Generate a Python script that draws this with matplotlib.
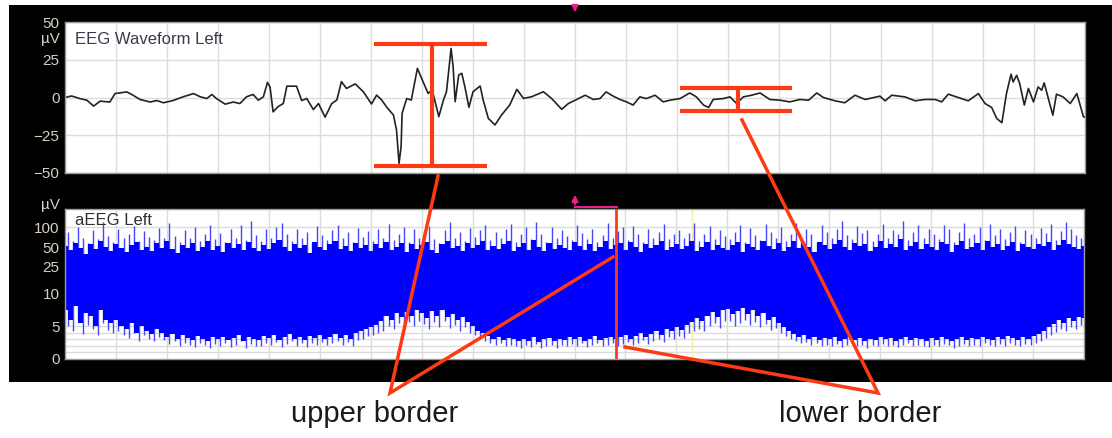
import matplotlib
matplotlib.use("Agg")
import matplotlib.pyplot as plt
import numpy as np

plt.rcParams["font.family"] = ["Liberation Sans", "DejaVu Sans"]

# ---- EEG waveform (seconds, microvolts) ----
eeg_t = [0.00, 0.13, 0.29, 0.43, 0.56, 0.69, 0.88, 0.98, 1.21, 1.31, 1.47, 1.67, 1.80, 1.93,
         2.12, 2.32, 2.52, 2.65, 2.78, 2.88, 2.97, 3.14, 3.30, 3.43, 3.56, 3.69, 3.79, 3.89,
         3.97, 4.02, 4.08, 4.18, 4.28, 4.35, 4.54, 4.64, 4.74, 4.87, 4.97, 5.10, 5.23, 5.33,
         5.42, 5.52, 5.69, 5.85, 6.01, 6.11, 6.21, 6.31, 6.44, 6.50, 6.55, 6.59, 6.61, 6.70,
         6.79, 6.91, 7.02, 7.12, 7.20, 7.33, 7.42, 7.48, 7.57, 7.61, 7.65, 7.72, 7.78, 7.84,
         7.92, 8.00, 8.14, 8.20, 8.30, 8.43, 8.56, 8.72, 8.86, 8.99, 9.15, 9.38, 9.54, 9.74,
         9.87, 10.03, 10.20, 10.36, 10.49, 10.61, 10.75, 10.88, 11.01, 11.14, 11.27, 11.40,
         11.57, 11.73, 11.86, 12.06, 12.25, 12.38, 12.52, 12.62, 12.71, 12.91, 13.04, 13.17,
         13.30, 13.46, 13.63, 13.82, 14.02, 14.21, 14.41, 14.58, 14.74, 14.87, 15.10, 15.29,
         15.49, 15.69, 15.98, 16.08, 16.21, 16.47, 16.67, 16.86, 17.06, 17.19, 17.32, 17.48,
         17.71, 17.91, 18.04, 18.17, 18.27, 18.37, 18.46, 18.55, 18.59, 18.66, 18.72, 18.81,
         18.89, 18.99, 19.08, 19.15, 19.20, 19.29, 19.37, 19.44, 19.57, 19.71, 19.84, 19.97,
         20.00]
eeg_uv = [0.0, 1.0, -0.7, -1.8, -5.7, -2.4, -3.0, 2.6, 3.7, 2.0, -1.3, -3.0, -2.0, -3.5,
          -2.0, 0.5, 2.6, 0.5, -0.7, 2.0, -0.7, -4.4, -3.0, -4.0, 0.5, 2.0, -1.8, 0.5,
          10.0, 7.0, -9.5, -6.0, -4.0, 7.5, 7.5, -2.0, -0.7, -8.0, -4.0, -13.0, -4.0, -1.7,
          10.5, 6.0, 9.0, 3.8, -4.3, 1.6, -1.7, -6.5, -11.6, -21.5, -43.6, -32.6, -10.5, -0.7,
          -1.7, 19.3, 10.5, 2.7, 5.0, -12.7, -1.7, 3.8, 32.5, 20.4, -2.8, 14.9, 16.0, 7.2,
          -6.5, 3.8, 7.6, -1.7, -13.8, -18.2, -11.6, -5.0, 5.4, -0.6, 0.5, 3.8, -0.6, -7.8,
          -4.0, -1.3, 1.5, -1.3, -0.7, 3.7, 0.9, -1.3, -2.9, -5.0, 0.4, -0.7,
          1.5, -2.9, -1.8, -0.7, 3.0, 0.4, -5.0, -6.6, -1.3, -0.7, 0.4, -4.0,
          0.4, 1.5, 3.0, -1.3, -1.8, -2.9, -1.3, -1.8, 3.0, 0.0, -2.2, -3.5,
          1.5, -1.3, 0.9, -2.2, 1.5, 0.4, -2.2, -1.3, -1.3, -2.9, 2.2, 0.4,
          -2.2, 2.6, -4.0, -6.6, -13.9, -16.7, 2.6, 15.4, 10.3, 14.7, 9.2, -5.0,
          6.0, -2.9, 7.0, 4.8, 9.7, -1.8, -11.7, 2.2, 0.4, -4.0, 2.6, -12.8,
          -13.0]

# ---- aEEG: solid band every 0.1 s, thin spikes in between ----
band_t = np.arange(0, 20.001, 0.1)
band_upper = [52, 45, 58, 48, 40, 55, 47, 62, 50, 44,
              56, 48, 42, 53, 60, 46, 51, 43, 57, 49,
              62, 47, 41, 54, 49, 58, 44, 50, 63, 46,
              52, 42, 57, 48, 55, 45, 60, 49, 43, 54,
              47, 58, 65, 50, 44, 56, 48, 53, 41, 59,
              50, 45, 55, 61, 47, 52, 43, 57, 49, 53,
              44, 56, 48, 60, 45, 51, 58, 42, 55, 47,
              53, 60, 46, 41, 55, 63, 48, 52, 44, 57,
              49, 54, 61, 45, 52, 47, 56, 62, 43, 50,
              57, 46, 64, 51, 43, 58, 47, 54, 49, 45,
              60, 52, 46, 55, 43, 50, 62, 47, 53, 58,
              45, 59, 51, 42, 56, 48, 53, 61, 46, 50,
              55, 47, 52, 63, 44, 51, 59, 46, 54, 49,
              46, 53, 60, 42, 56, 50, 45, 61, 52, 47,
              57, 43, 50, 62, 48, 55, 51, 42, 60, 53,
              47, 56, 64, 50, 46, 58, 52, 55, 44, 51,
              62, 48, 55, 50, 66, 45, 52, 60, 47, 56,
              51, 46, 60, 55, 42, 53, 63, 47, 51, 57,
              45, 61, 50, 56, 46, 52, 59, 43, 55, 50,
              47, 56, 52, 60, 45, 53, 64, 55, 50, 47,
              52]
band_lower = [7.5, 6, 8, 5.5, 7, 6.5, 5, 7.5, 6, 5.5,
              6, 5, 4.5, 5.5, 4, 5, 4.2, 3.8, 4.6, 4,
              3.4, 3.8, 3, 3.6, 3.2, 2.9, 3.5, 3.1, 2.8, 3.3,
              3, 3.4, 2.9, 3.2, 3.7, 2.8, 3.3, 3, 2.9, 3.5,
              3.2, 3.6, 2.9, 3.3, 3.8, 3, 3.4, 2.9, 3.5, 3.2,
              3.6, 3.1, 3.4, 3.8, 3.2, 3.6, 3.1, 3.9, 4.2, 4.6,
              4.8, 5.2, 5.8, 6.5, 6, 7, 6.4, 7.2, 6.6, 7.4,
              7, 6.2, 7.3, 6.6, 7.5, 6.4, 6.9, 5.9, 6.4, 5.6,
              5, 4.3, 3.9, 3.5, 3.1, 3.4, 2.9, 3.2, 3, 2.7,
              3.1, 2.8, 3.3, 2.6, 3, 3.2, 2.7, 3.1, 2.9, 3.3,
              3, 3.4, 2.8, 3.1, 3.5, 2.9, 3.2, 3.4, 3, 3.3,
              3.6, 3.1, 3.5, 4, 3.4, 3.8, 4.3, 3.7, 4.5, 4.2,
              4.8, 4.4, 5.2, 5.6, 6.2, 5.8, 6.6, 7.2, 6.4, 7.4,
              7.6, 6.8, 7.3, 7.8, 6.9, 7.4, 6.5, 7, 6, 6.4,
              5.4, 4.8, 4.2, 3.8, 3.4, 3.6, 3.1, 3.4, 2.9, 3.2,
              3, 3.3, 2.8, 3.1, 3.4, 2.9, 3.2, 2.7, 3.1, 2.9,
              3.3, 3, 3.2, 2.8, 3.1, 3.4, 2.9, 3.2, 3, 2.8,
              3.2, 2.9, 3.3, 3.1, 2.7, 3, 3.3, 2.9, 3.2, 3,
              3.4, 3.1, 2.9, 3.3, 3, 3.5, 3.2, 2.9, 3.3, 3.1,
              3.5, 3.8, 4.3, 4.8, 5.3, 5.9, 5.5, 6.2, 5.8, 6.4,
              6.2]

spike_t = np.arange(0.05, 20.0, 0.1)
spike_upper = [85, 62, 100, 70, 58, 92, 66, 120, 75, 60,
               95, 68, 80, 105, 62, 88, 72, 64, 98, 70,
               115, 74, 60, 90, 68, 102, 63, 78, 110, 66,
               82, 60, 96, 70, 108, 64, 125, 76, 62, 94,
               70, 100, 118, 78, 62, 95, 68, 86, 60, 104,
               76, 64, 92, 108, 70, 84, 60, 98, 72, 88,
               62, 96, 70, 112, 64, 80, 100, 60, 94, 68,
               84, 104, 66, 58, 92, 122, 70, 86, 62, 98,
               72, 90, 110, 64, 86, 68, 96, 114, 60, 78,
               100, 66, 120, 80, 60, 102, 68, 90, 74, 64,
               108, 82, 66, 94, 60, 76, 116, 68, 88, 100,
               64, 104, 78, 60, 96, 70, 86, 112, 66, 80,
               92, 68, 82, 118, 62, 78, 106, 66, 90, 74,
               66, 86, 110, 60, 98, 76, 64, 114, 84, 68,
               100, 62, 80, 116, 70, 94, 78, 60, 108, 86,
               68, 96, 124, 76, 66, 104, 82, 92, 62, 80,
               114, 70, 92, 78, 126, 64, 84, 108, 68, 96,
               80, 66, 110, 94, 60, 86, 118, 68, 80, 100,
               64, 112, 76, 96, 66, 84, 106, 60, 92, 78,
               70, 98, 82, 112, 64, 88, 120, 94, 76, 68]
spike_lower = [5, 4.2, 6, 3.8, 5.2, 4.5, 3.6, 5.5, 4.4, 3.9,
               4.3, 3.6, 3.2, 4, 2.8, 3.7, 3, 2.7, 3.4, 2.9,
               2.3, 2.7, 2, 2.5, 2.2, 1.8, 2.4, 2.1, 1.7, 2.3,
               2, 2.4, 1.8, 2.2, 2.7, 1.7, 2.3, 2, 1.9, 2.5,
               2.2, 2.6, 1.8, 2.3, 2.8, 2, 2.4, 1.8, 2.5, 2.2,
               2.6, 2.1, 2.4, 2.8, 2.2, 2.6, 2, 2.9, 3.1, 3.5,
               3.6, 4, 4.3, 5, 4.5, 5.4, 4.8, 5.6, 5, 5.8,
               5.3, 4.6, 5.6, 4.9, 5.8, 4.7, 5.2, 4.3, 4.8, 4,
               3.6, 3.1, 2.8, 2.5, 2.1, 2.4, 1.9, 2.2, 2, 1.7,
               2.1, 1.8, 2.3, 1.6, 2, 2.2, 1.7, 2.1, 1.9, 2.3,
               2, 2.4, 1.8, 2.1, 2.5, 1.9, 2.2, 2.4, 2, 2.3,
               2.6, 2.1, 2.5, 2.9, 2.3, 2.7, 3.1, 2.6, 3.3, 3,
               3.5, 3.2, 3.9, 4.2, 4.6, 4.3, 5, 5.5, 4.7, 5.7,
               5.8, 5, 5.5, 6, 5.1, 5.6, 4.8, 5.3, 4.4, 4.7,
               4, 3.5, 3.1, 2.7, 2.4, 2.6, 2.1, 2.4, 1.9, 2.2,
               2, 2.3, 1.8, 2.1, 2.4, 1.9, 2.2, 1.7, 2.1, 1.9,
               2.3, 2, 2.2, 1.8, 2.1, 2.4, 1.9, 2.2, 2, 1.8,
               2.2, 1.9, 2.3, 2.1, 1.7, 2, 2.3, 1.9, 2.2, 2,
               2.4, 2.1, 1.9, 2.3, 2, 2.5, 2.2, 1.9, 2.3, 2.1,
               2.5, 2.8, 3.2, 3.7, 4.1, 4.6, 4.3, 4.9, 4.5, 5.1]

eeg_ticks = [-50, -25, 0, 25, 50]
aeeg_ticks = [0, 5, 10, 25, 50, 100]
aeeg_grid = [1, 2, 3, 4, 5, 100]

cursor_t = 10.0        # magenta cursor
border_t = 10.82       # red marker line in the aEEG
upper_bracket = dict(t0=6.06, t1=8.27, tc=7.2, hi=35.4, lo=-45.4)
lower_bracket = dict(t0=12.06, t1=14.25, tc=13.2, hi=6.1, lo=-8.7)

RED = "#ff3a12"
MAGENTA = "#e8208c"
LABEL = "#d8cfbf"
W, H = 1112, 438


def fwd(v):
    v = np.asarray(v, dtype=float)
    return np.where(v <= 10, v / 10.0, 1 + np.log10(np.maximum(v, 1e-6) / 10.0))


def inv(u):
    u = np.asarray(u, dtype=float)
    return np.where(u <= 1, u * 10.0, 10.0 * 10 ** (np.minimum(u, 5) - 1))


def frac(x, y, w, h):
    return [x / W, 1 - (y + h) / H, w / W, h / H]


fig = plt.figure(figsize=(W / 100, H / 100), dpi=100)

# black instrument background as its own axes underneath everything
bg = fig.add_axes(frac(9, 5, W - 9, 377), zorder=-5)
bg.set_facecolor("black")
bg.set_xticks([])
bg.set_yticks([])
for s in bg.spines.values():
    s.set_visible(False)

ax1 = fig.add_axes(frac(65, 22, 1020, 151))
ax2 = fig.add_axes(frac(65, 209, 1019, 150))

for ax in (ax1, ax2):
    ax.set_facecolor("white")
    ax.set_xlim(0, 20)
    ax.set_xticks(range(0, 21))
    ax.tick_params(axis="x", length=0, labelbottom=False)
    ax.tick_params(axis="y", length=0, pad=4, labelsize=11, labelcolor=LABEL)
    for s in ax.spines.values():
        s.set_color("#9a9a9a")
        s.set_linewidth(1)
    ax.grid(axis="x", color="#dcdcdc", lw=1)
    ax.set_axisbelow(True)

# top: raw EEG
ax1.set_ylim(-50, 50)
ax1.set_yticks(eeg_ticks)
ax1.grid(axis="y", color="#dcdcdc", lw=1)
ax1.plot(eeg_t, eeg_uv, color="#222222", lw=1.2)
ax1.text(0.2, 38.5, "EEG Waveform Left", fontsize=12, color="#3a3a4e", va="center")
ax1.text(-0.005, 38.5, "µV", transform=ax1.get_yaxis_transform(), ha="right",
         va="center", fontsize=11, color=LABEL)

for b in (upper_bracket, lower_bracket):
    ax1.hlines([b["hi"], b["lo"]], b["t0"], b["t1"], color=RED, lw=3, clip_on=False)
    ax1.vlines(b["tc"], b["lo"], b["hi"], color=RED, lw=3, clip_on=False)

# bottom: amplitude-integrated EEG on semi-log scale
ax2.set_yscale("function", functions=(fwd, inv))
ax2.set_ylim(0, 190)
ax2.set_yticks(aeeg_ticks)
ax2.set_yticklabels([str(v) for v in aeeg_ticks])
ax2.minorticks_off()
for g in aeeg_grid:
    ax2.axhline(g, color="#dcdcdc", lw=1, zorder=0.5)
ax2.axvline(12.3, color="#f4f0a0", lw=1, zorder=0.6)
ax2.vlines(spike_t, spike_lower, spike_upper, color="#4646ff", lw=1.0, zorder=1.8)
ax2.fill_between(band_t, band_lower, band_upper, step="mid", color="#0000ff",
                 lw=0, zorder=2)
ax2.text(0.2, 125, "aEEG Left", fontsize=12, color="#303030", va="center", zorder=3)
ax2.text(-0.005, 1.03, "µV", transform=ax2.transAxes, ha="right", va="center",
         fontsize=11, color=LABEL)
ax2.axvline(border_t, color=RED, lw=2, zorder=4)

# overlay in pixel coordinates for the callouts
ov = fig.add_axes([0, 0, 1, 1], zorder=10)
ov.set_xlim(0, W)
ov.set_ylim(H, 0)
ov.axis("off")
ov.patch.set_alpha(0)


def px(t):
    return 65 + t * 51.0


# magenta cursor markers
ov.annotate("", xy=(px(cursor_t), 15), xytext=(px(cursor_t), 5),
            arrowprops=dict(arrowstyle="-|>", color=MAGENTA, lw=1.5, mutation_scale=9))
ov.annotate("", xy=(px(cursor_t), 192), xytext=(px(cursor_t), 207),
            arrowprops=dict(arrowstyle="-|>", color=MAGENTA, lw=1.5, mutation_scale=9))
ov.plot([px(cursor_t), px(border_t)], [207, 207], color=MAGENTA, lw=1.5)

# callout lines
ov.plot([438, 390, 613], [176, 393, 257], color=RED, lw=2.5, solid_joinstyle="miter")
ov.plot([742, 878, 625], [120, 393, 347], color=RED, lw=2.5, solid_joinstyle="miter")
ov.text(375, 414, "upper border", fontsize=21, color="#1a1a1a", ha="center", va="center")
ov.text(860, 414, "lower border", fontsize=21, color="#1a1a1a", ha="center", va="center")

fig.savefig("out.png", dpi=100, facecolor="white")
